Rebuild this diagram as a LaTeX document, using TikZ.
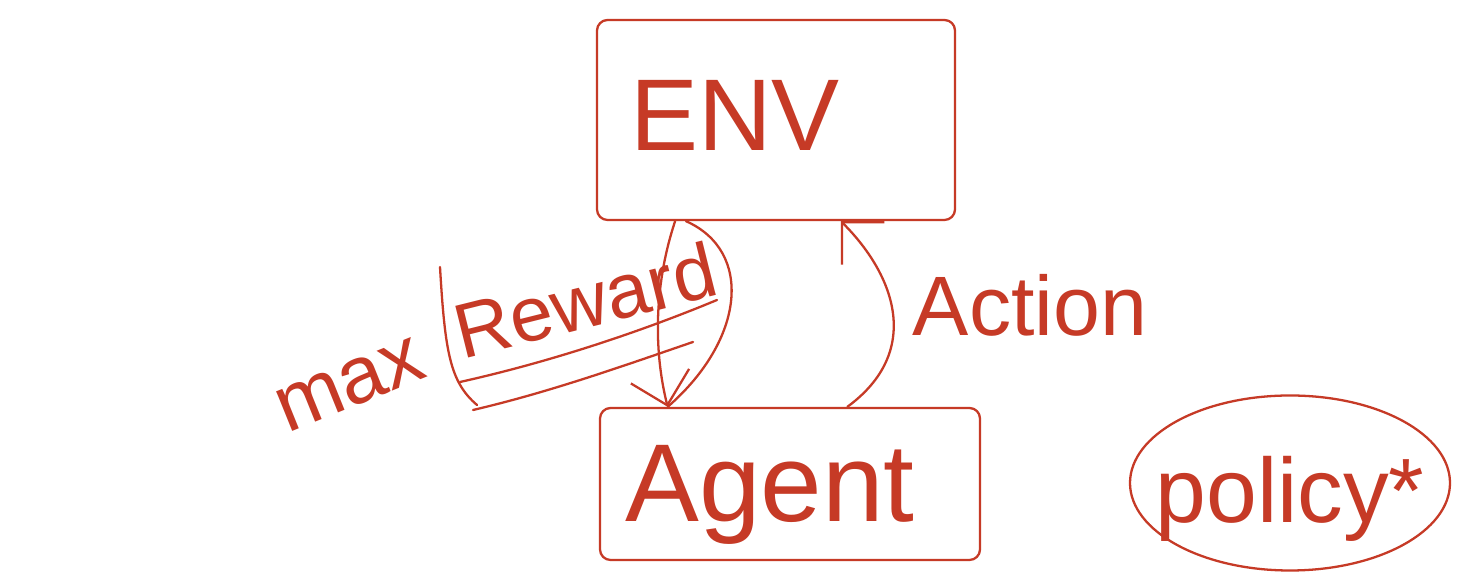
\documentclass[tikz,border=0pt]{standalone}
\usepackage{fontspec}
\setmainfont{Liberation Sans}
\usepackage{xcolor}
\usepackage{tikz}
\usetikzlibrary{
  arrows.meta,
  positioning,
  shapes.geometric,
  calc
}
\definecolor{penred}{RGB}{198,58,38}

\begin{document}
\begin{tikzpicture}[
  pen/.style={draw=penred, line width=1.3pt, line cap=round, line join=round},
  hand/.style={text=penred, inner sep=0pt},
  board/.style={pen, rounded corners=6pt, minimum width=7.16cm, minimum height=4cm},
  barb/.style={-{Straight Barb[length=0.6cm, width=1.2cm, line width=1.3pt]}}
]
  \useasboundingbox[fill=white] (0,0) rectangle (29.46,11.64);
  \node[board] (env) at (15.52,9.24) {};
  \node[hand, font=\fontsize{58}{58}\selectfont] (envtext) at (14.7,9.34) {ENV};
  \node[board, minimum width=7.6cm, minimum height=3.04cm] (agent) at (15.8,1.96) {};
  \node[hand, font=\fontsize{63}{63}\selectfont] (agenttext) at (15.4,1.74) {Agent};
  \node[pen, ellipse, minimum width=6.4cm, minimum height=3.5cm] (policy) at (25.8,1.98) {};
  \node[hand, font=\fontsize{52}{52}\selectfont] (policytext) at (25.8,1.66) {policy*};

  \coordinate (rewstem) at ($(env.south west)!0.22!(env.south east)$);
  \coordinate (rewarc) at ($(env.south west)!0.25!(env.south east)$);
  \coordinate (rewtip) at ($(agent.north west)!0.18!(agent.north east)$);
  \coordinate (actfoot) at ($(agent.north west)!0.65!(agent.north east)$);
  \coordinate (acttip) at ($(env.south west)!0.68!(env.south east)$);

  \draw[pen, barb] (rewstem) .. controls +(-0.4,-1.2) and +(-0.3,1.2) .. (rewtip);
  \draw[pen] (rewarc) .. controls +(1.35,-0.6) and +(1.55,1.35) .. (rewtip);
  \draw[pen, barb] (actfoot) .. controls +(1.5,1.1) and +(1.1,-1.1) .. (acttip);

  \node[hand, font=\fontsize{44}{44}\selectfont, rotate=14] (reward) at (11.7,5.64) {Reward};
  \node[hand, font=\fontsize{46}{46}\selectfont, rotate=22] (max) at (7.0,3.94) {max};
  \node[hand, font=\fontsize{48}{48}\selectfont] (action) at (20.6,5.54) {Action};

  \draw[pen] (8.8,6.3) .. controls (8.9,4.6) and (9.0,4.0) .. (9.54,3.54);
  \draw[pen] (9.2,4.0) .. controls (11.0,4.4) and (12.8,5.0) .. (14.34,5.64);
  \draw[pen] (9.46,3.44) .. controls (11.0,3.8) and (12.4,4.3) .. (13.86,4.8);
\end{tikzpicture}
\end{document}
